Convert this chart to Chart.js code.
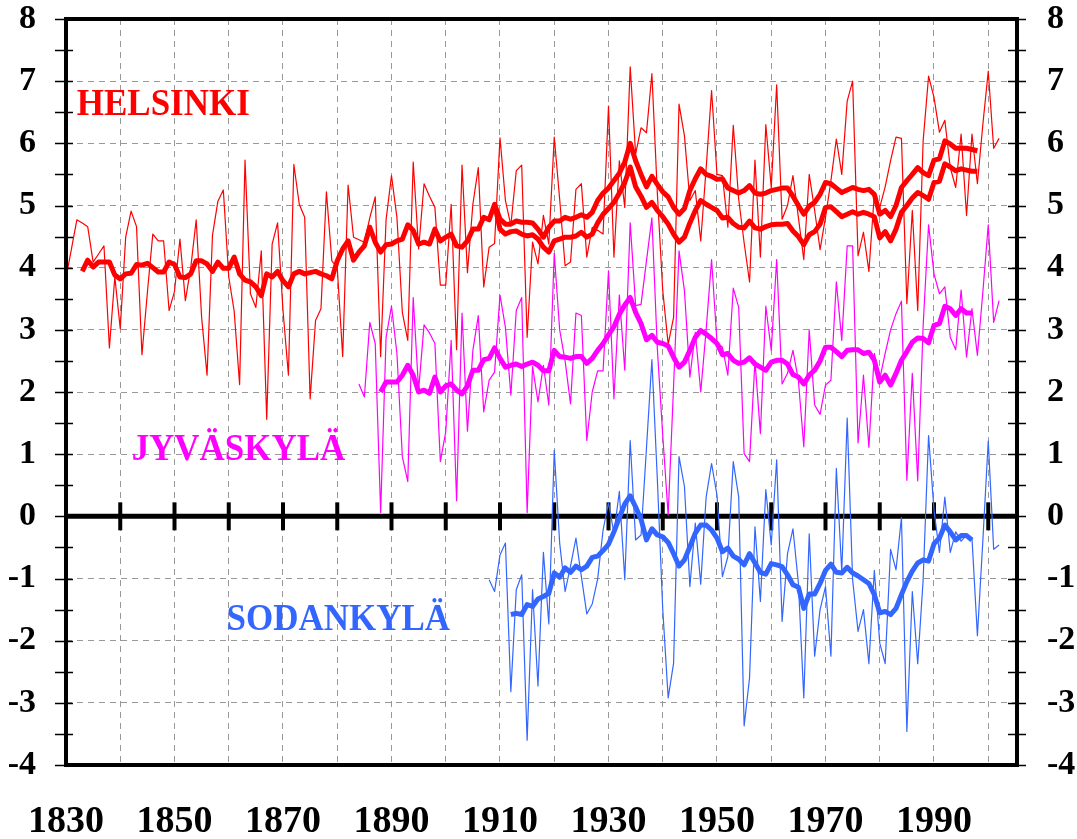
<!DOCTYPE html>
<html>
<head>
<meta charset="utf-8">
<script src="https://cdn.jsdelivr.net/npm/chart.js@4.4.0/dist/chart.umd.min.js"></script>
<style>
  html, body { margin: 0; padding: 0; background: #fff; }
</style>
</head>
<body>
<canvas id="grafico" width="1077" height="839"></canvas>
<script>
// Annual mean temperatures (°C) and their running means

// Helsinki, annual values from 1830
const helsinkiStart = 1830;
const helsinkiAnnual = [
  3.84, 4.3, 4.77, 4.72, 4.66, 4.09, 4.22, 4.35, 2.71, 3.85,
  3.02, 4.49, 4.91, 4.66, 2.6, 3.6, 4.54, 4.43, 4.43, 3.31,
  3.62, 4.46, 3.47, 4.0, 4.77, 3.2, 2.27, 4.52, 5.07, 5.25,
  3.85, 3.3, 2.12, 5.73, 3.58, 3.36, 4.27, 1.56, 4.38, 4.72,
  3.31, 2.27, 5.66, 5.02, 4.81, 1.89, 3.15, 3.34, 5.22, 4.11,
  4.0, 2.57, 5.33, 4.49, 4.45, 4.41, 4.8, 5.14, 2.57, 4.77,
  5.48, 4.81, 3.28, 2.83, 5.7, 4.3, 5.35, 5.15, 4.97, 3.72,
  3.72, 5.02, 2.68, 5.65, 3.92, 5.02, 5.61, 3.69, 4.33, 4.39,
  6.09, 5.08, 4.68, 5.56, 5.65, 2.88, 4.41, 4.06, 4.84, 4.38,
  6.1, 5.1, 4.03, 4.09, 5.26, 5.35, 4.17, 4.65, 4.6, 4.54,
  6.6, 4.17, 5.72, 4.97, 7.23, 5.83, 6.25, 6.17, 7.12, 5.2,
  3.63, 2.77, 3.2, 6.63, 6.12, 5.08, 5.24, 4.43, 5.6, 6.85,
  5.5, 5.48, 4.65, 6.29, 5.1, 4.4, 3.77, 5.73, 4.17, 6.3,
  5.29, 6.94, 4.78, 5.0, 5.48, 4.81, 4.13, 5.5, 4.92, 4.29,
  4.81, 5.4, 6.07, 5.5, 6.68, 7.0, 4.19, 4.57, 3.94, 5.18,
  4.97, 5.3, 5.72, 6.1, 6.08, 3.42, 4.92, 3.31, 6.04, 7.08,
  6.74, 6.18, 6.37, 5.61, 5.29, 6.15, 4.84, 6.15, 5.35, 6.3,
  7.16, 5.92, 6.08
];

// Helsinki running mean, upper curve, from 1833
const helsinkiMeanAStart = 1833;
const helsinkiMeanA = [
  3.94, 4.12, 4.01, 4.09, 4.09, 4.09, 3.88,
  3.82, 3.9, 3.91, 4.05, 4.04, 4.07, 4.0, 3.93, 3.93, 4.09,
  4.05, 3.85, 3.84, 3.9, 4.11, 4.11, 4.06, 3.94, 4.09, 3.99,
  3.99, 4.17, 3.9, 3.8, 3.77, 3.69, 3.55, 3.9, 3.85, 3.94,
  3.79, 3.69, 3.9, 3.94, 3.9, 3.92, 3.94, 3.9, 3.87, 3.82,
  4.11, 4.3, 4.43, 4.12, 4.25, 4.35, 4.65, 4.41, 4.25, 4.37,
  4.38, 4.43, 4.46, 4.69, 4.6, 4.38, 4.41, 4.38, 4.62, 4.43,
  4.49, 4.54, 4.35, 4.33, 4.43, 4.62, 4.62, 4.81, 4.77, 5.02,
  4.78, 4.7, 4.7, 4.75, 4.73, 4.73, 4.72, 4.62, 4.49, 4.65,
  4.75, 4.75, 4.81, 4.78, 4.81, 4.85, 4.81, 4.89, 5.08, 5.2,
  5.28, 5.4, 5.52, 5.7, 6.0, 5.72, 5.5, 5.3, 5.47, 5.34,
  5.22, 5.14, 4.97, 4.86, 4.95, 5.24, 5.43, 5.59, 5.5, 5.47,
  5.42, 5.43, 5.28, 5.24, 5.2, 5.24, 5.32, 5.2, 5.18, 5.2,
  5.24, 5.26, 5.28, 5.28, 5.15, 5.0, 4.86, 4.99, 5.05, 5.18,
  5.37, 5.35, 5.28, 5.21, 5.25, 5.29, 5.26, 5.24, 5.26, 5.18,
  4.86, 4.92, 4.82, 5.0, 5.29, 5.4, 5.5, 5.61, 5.53, 5.48,
  5.73, 5.75, 6.04, 5.99, 5.92, 5.92, 5.92, 5.9, 5.88
];

// Helsinki running mean, lower curve, from 1909
const helsinkiMeanBStart = 1909;
const helsinkiMeanB = [
  5.02,
  4.62, 4.54, 4.58, 4.59, 4.54, 4.51, 4.53, 4.46, 4.33, 4.25,
  4.43, 4.46, 4.49, 4.49, 4.51, 4.57, 4.49, 4.54, 4.72, 4.86,
  4.95, 5.05, 5.2, 5.37, 5.62, 5.3, 5.15, 4.97, 5.05, 4.92,
  4.82, 4.7, 4.54, 4.41, 4.49, 4.72, 4.92, 5.08, 5.02, 4.97,
  4.92, 4.8, 4.81, 4.71, 4.65, 4.64, 4.75, 4.64, 4.62, 4.66,
  4.69, 4.7, 4.7, 4.71, 4.59, 4.5, 4.37, 4.53, 4.58, 4.7,
  4.97, 4.98, 4.9, 4.82, 4.86, 4.9, 4.86, 4.89, 4.86, 4.82,
  4.48, 4.58, 4.43, 4.62, 4.89, 5.0, 5.12, 5.21, 5.16, 5.1,
  5.37, 5.39, 5.67, 5.62, 5.56, 5.59, 5.57, 5.55, 5.55
];

// Jyväskylä, annual values from 1884
const jyvaskylaStart = 1884;
const jyvaskylaAnnual = [
  2.13, 1.92, 3.12, 2.78, 0.06, 2.88,
  3.38, 2.62, 0.96, 0.56, 3.52, 2.03, 3.08, 2.95, 2.78, 0.88,
  1.36, 2.83, 0.25, 3.27, 1.37, 2.67, 3.23, 1.68, 2.19, 2.32,
  3.56, 3.04, 1.95, 3.31, 3.52, 0.06, 2.41, 1.84, 2.43, 1.79,
  4.23, 3.0, 2.5, 1.81, 3.27, 3.23, 1.22, 2.0, 2.34, 2.34,
  3.95, 1.89, 3.56, 2.35, 4.72, 3.39, 3.41, 4.11, 4.8, 2.7,
  1.3, 0.02, 2.1, 4.27, 3.63, 2.24, 2.96, 2.0, 3.0, 4.13,
  2.8, 2.72, 2.27, 3.67, 3.36, 1.01, 0.88, 2.5, 1.33, 3.38,
  2.67, 4.13, 2.13, 2.3, 2.67, 2.19, 1.12, 3.0, 1.79, 1.64,
  2.11, 2.19, 3.77, 2.83, 4.35, 4.35, 1.18, 2.27, 1.11, 2.62,
  2.21, 2.62, 3.0, 3.26, 3.46, 0.58, 2.3, 0.57, 3.07, 4.69,
  3.9, 3.58, 3.69, 2.88, 2.68, 3.64, 2.56, 3.34, 2.59, 3.6,
  4.69, 3.12, 3.47
];

// Jyväskylä running mean from 1888
const jyvaskylaMeanStart = 1888;
const jyvaskylaMean = [
  2.0, 2.16,
  2.16, 2.16, 2.27, 2.43, 2.27, 2.0, 2.03, 1.98, 2.24, 2.0,
  2.1, 2.13, 2.03, 1.97, 2.1, 2.35, 2.35, 2.52, 2.54, 2.71,
  2.54, 2.4, 2.43, 2.45, 2.41, 2.45, 2.48, 2.43, 2.34, 2.34,
  2.67, 2.57, 2.56, 2.54, 2.57, 2.57, 2.46, 2.54, 2.67, 2.78,
  2.92, 3.05, 3.25, 3.4, 3.52, 3.28, 3.1, 2.84, 2.91, 2.8,
  2.78, 2.74, 2.56, 2.4, 2.48, 2.67, 2.88, 2.99, 2.93, 2.86,
  2.78, 2.6, 2.62, 2.51, 2.46, 2.48, 2.55, 2.45, 2.4, 2.35,
  2.48, 2.51, 2.51, 2.45, 2.28, 2.24, 2.13, 2.27, 2.35, 2.5,
  2.72, 2.72, 2.65, 2.57, 2.67, 2.68, 2.68, 2.62, 2.64, 2.51,
  2.16, 2.27, 2.11, 2.3, 2.51, 2.65, 2.8, 2.87, 2.86, 2.79,
  3.07, 3.1, 3.38, 3.34, 3.23, 3.34, 3.27, 3.27
];

// Sodankylä, annual values from 1908
const sodankylaStart = 1908;
const sodankylaAnnual = [
  -1.02, -1.21,
  -0.62, -0.43, -2.82, -1.18, -0.94, -3.6, -1.18, -2.73, -0.58, -1.73,
  1.06, -0.43, -1.21, -0.8, -0.35, -0.97, -1.57, -1.41, -1.01, -0.22,
  0.22, -0.27, 0.4, -1.02, 1.22, -0.38, -0.3, 1.1, 2.52, 0.6,
  -1.5, -2.92, -2.36, 0.96, 0.48, -1.13, -0.11, -1.09, 0.31, 0.85,
  0.34, -0.97, -0.65, 0.88, 0.31, -3.37, -2.6, -0.17, -1.37, 0.43,
  -0.46, 0.91, -1.69, -0.6, -0.2, -1.07, -2.92, -0.28, -2.25, -1.5,
  -1.13, -2.25, 0.77, -0.89, 1.58, -1.02, -1.85, -1.5, -2.37, -0.87,
  -2.04, -2.37, -0.53, -0.86, -0.02, -3.46, -1.21, -2.37, -1.02, 1.3,
  0.1, -0.58, 0.31, -0.58, -0.25, -0.4, -0.3, -0.35, -1.92, -0.4,
  1.21, -0.53, -0.46
];

// Sodankylä running mean from 1912
const sodankylaMeanStart = 1912;
const sodankylaMean = [
  -1.58, -1.56, -1.58, -1.42, -1.45, -1.33, -1.29, -1.24,
  -0.91, -0.98, -0.83, -0.9, -0.8, -0.86, -0.8, -0.66, -0.64, -0.55,
  -0.45, -0.25, -0.02, 0.2, 0.33, 0.15, -0.05, -0.38, -0.2, -0.3,
  -0.33, -0.42, -0.6, -0.8, -0.7, -0.49, -0.27, -0.14, -0.14, -0.22,
  -0.35, -0.57, -0.51, -0.64, -0.69, -0.78, -0.6, -0.75, -0.9, -0.93,
  -0.76, -0.78, -0.81, -0.94, -1.1, -1.14, -1.48, -1.25, -1.25, -1.08,
  -0.87, -0.77, -0.9, -0.91, -0.82, -0.91, -0.96, -1.02, -1.08, -1.26,
  -1.55, -1.53, -1.58, -1.48, -1.26, -1.05, -0.88, -0.75, -0.7, -0.72,
  -0.44, -0.35, -0.14, -0.25, -0.38, -0.31, -0.31, -0.38
];

// Axis settings
const anoMin = 1830;
const anoMax = 2005.3;
const tempMin = -4;
const tempMax = 8;
const decadas = [1840, 1850, 1860, 1870, 1880, 1890, 1900, 1910, 1920, 1930, 1940, 1950, 1960, 1970, 1980, 1990, 2000];
const rotulosAno = [1830, 1850, 1870, 1890, 1910, 1930, 1950, 1970, 1990];

// Station names written inside the plot: [text, year of left edge, value of baseline, colour]
const nomes = [
  ['HELSINKI', 1832, 6.46, '#FF0000'],
  ['JYVÄSKYLÄ', 1842.1, 0.9, '#FF00FF'],
  ['SODANKYLÄ', 1859.6, -1.83, '#3366FF']
];

const VERMELHO = '#FF0000';
const MAGENTA = '#FF00FF';
const AZUL = '#3366FF';
const FONTE = "'Times New Roman', 'Liberation Serif', serif";

function pontos(inicio, valores) {
  return valores.map((v, i) => ({ x: inicio + i, y: v }));
}

function serie(inicio, valores, cor, largura) {
  return {
    data: pontos(inicio, valores),
    borderColor: cor,
    borderWidth: largura,
    pointRadius: 0,
    tension: 0,
    fill: false,
    borderJoinStyle: 'round',
    borderCapStyle: 'butt',
    yAxisID: 'y'
  };
}

// Frame, zero line with decade marks, axis ticks and station names
const moldura = {
  id: 'moldura',
  beforeDatasetsDraw(chart) {
    const { ctx, chartArea: a, scales: { x, y } } = chart;
    const y0 = y.getPixelForValue(0);
    ctx.save();
    ctx.strokeStyle = '#000';
    ctx.lineWidth = 5;
    ctx.beginPath();
    ctx.moveTo(a.left, y0);
    ctx.lineTo(a.right, y0);
    ctx.stroke();
    ctx.lineWidth = 4;
    decadas.forEach(d => {
      const px = x.getPixelForValue(d);
      ctx.beginPath();
      ctx.moveTo(px, y0 - 14);
      ctx.lineTo(px, y0 + 14);
      ctx.stroke();
    });
    ctx.restore();
  },
  afterDraw(chart) {
    const { ctx, chartArea: a, scales: { x, y } } = chart;
    ctx.save();
    ctx.strokeStyle = '#000';
    // small ticks every 0.5 on both sides
    ctx.lineWidth = 1.5;
    for (let v = tempMin; v <= tempMax; v += 0.5) {
      const py = Math.round(y.getPixelForValue(v)) + 0.5;
      ctx.beginPath();
      ctx.moveTo(a.left - 11, py);
      ctx.lineTo(a.left + 7, py);
      ctx.moveTo(a.right - 9, py);
      ctx.lineTo(a.right + 9, py);
      ctx.stroke();
    }
    ctx.lineWidth = 4;
    ctx.strokeRect(a.left, a.top, a.right - a.left, a.bottom - a.top);
    // station names
    ctx.font = 'bold 38px ' + FONTE;
    ctx.textBaseline = 'alphabetic';
    nomes.forEach(([texto, ano, valor, cor]) => {
      ctx.save();
      ctx.translate(x.getPixelForValue(ano), y.getPixelForValue(valor));
      ctx.scale(0.92, 1);
      ctx.fillStyle = cor;
      ctx.fillText(texto, 0, 0);
      ctx.restore();
    });
    ctx.restore();
  }
};

const eixoY = (posicao) => ({
  type: 'linear',
  position: posicao,
  min: tempMin,
  max: tempMax,
  afterFit(scale) {
    scale.width = posicao === 'left' ? 66 : 60;
    scale.paddingTop = 0;
    scale.paddingBottom = 0;
  },
  border: { display: false, dash: [6, 5] },
  grid: {
    drawOnChartArea: posicao === 'left',
    drawTicks: false,
    lineWidth: 1,
    color: (c) => (c.tick && Number.isInteger(c.tick.value) && c.tick.value > tempMin && c.tick.value < tempMax) ? '#999999' : 'rgba(0,0,0,0)'
  },
  ticks: {
    stepSize: 0.5,
    padding: 30,
    color: '#000',
    font: { family: FONTE, size: 34, weight: 'bold' },
    callback: (v) => Number.isInteger(v) ? String(v) : ''
  }
});

new Chart(document.getElementById('grafico'), {
  type: 'line',
  data: {
    datasets: [
      serie(helsinkiMeanAStart, helsinkiMeanA, VERMELHO, 5),
      serie(helsinkiMeanBStart, helsinkiMeanB, VERMELHO, 5),
      serie(jyvaskylaMeanStart, jyvaskylaMean, MAGENTA, 5),
      serie(sodankylaMeanStart, sodankylaMean, AZUL, 5),
      serie(helsinkiStart, helsinkiAnnual, VERMELHO, 1.2),
      serie(jyvaskylaStart, jyvaskylaAnnual, MAGENTA, 1.2),
      serie(sodankylaStart, sodankylaAnnual, AZUL, 1.2)
    ]
  },
  options: {
    responsive: false,
    animation: false,
    devicePixelRatio: 1,
    layout: { padding: { top: 19, left: 0, right: 0, bottom: 0 } },
    plugins: { legend: { display: false }, tooltip: { enabled: false } },
    scales: {
      x: {
        type: 'linear',
        min: anoMin,
        max: anoMax,
        afterFit(scale) {
          scale.height = 74;
          scale.paddingLeft = 0;
          scale.paddingRight = 0;
        },
        border: { display: false, dash: [6, 5] },
        grid: {
          drawTicks: false,
          lineWidth: 1,
          color: (c) => (c.tick && decadas.includes(c.tick.value)) ? '#999999' : 'rgba(0,0,0,0)'
        },
        ticks: {
          stepSize: 10,
          includeBounds: false,
          autoSkip: false,
          maxRotation: 0,
          padding: 34,
          color: '#000',
          font: { family: FONTE, size: 38, weight: 'bold' },
          callback: (v) => rotulosAno.includes(v) ? String(v) : ''
        }
      },
      y: eixoY('left'),
      y2: eixoY('right')
    }
  },
  plugins: [moldura]
});
</script>
</body>
</html>
